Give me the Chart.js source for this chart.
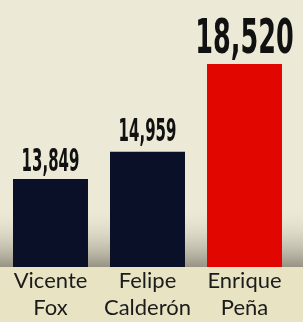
<!DOCTYPE html>
<html>
<head>
<meta charset="utf-8">
<script src="https://cdn.jsdelivr.net/npm/chart.js@4/dist/chart.umd.min.js"></script>
<style>
  html, body { margin: 0; padding: 0; background: #ece9d6; }
  #wrap { width: 303px; height: 322px; }
</style>
</head>
<body>
<div id="wrap"><canvas id="chart" width="303" height="322"></canvas></div>
<script>
// Data
const categories = [['Vicente', 'Fox'], ['Felipe', 'Calderón'], ['Enrique', 'Peña']];
const values = [13849, 14959, 18520];
const valueLabels = ['13,849', '14,959', '18,520'];

// Styles
const barColors = ['#0b1029', '#0b1029', '#e10600'];
const labelSizes = [32, 32, 48];
const labelSqueeze = [0.52, 0.52, 0.59];
const labelGaps = [8, 11, 11];

// Cream background with a grey shade near the baseline
const backdrop = {
    id: 'backdrop',
    beforeDraw(chart) {
        const ctx = chart.ctx;
        const area = chart.chartArea;
        ctx.save();
        ctx.fillStyle = '#ece9d6';
        ctx.fillRect(0, 0, chart.width, area.bottom);
        const g = ctx.createLinearGradient(0, area.bottom - 62, 0, area.bottom);
        g.addColorStop(0, 'rgba(236,233,214,0)');
        g.addColorStop(1, 'rgba(150,147,132,1)');
        ctx.fillStyle = g;
        ctx.fillRect(0, area.bottom - 62, chart.width, 62);
        ctx.fillStyle = '#e8e4c3';
        ctx.fillRect(0, area.bottom, chart.width, chart.height - area.bottom);
        ctx.restore();
    }
};

// Bold condensed numbers above the bars
const valueTags = {
    id: 'valueTags',
    afterDatasetsDraw(chart) {
        const ctx = chart.ctx;
        const meta = chart.getDatasetMeta(0);
        meta.data.forEach((bar, i) => {
            ctx.save();
            ctx.font = `bold ${labelSizes[i]}px "DejaVu Sans Condensed", "DejaVu Sans", sans-serif`;
            ctx.fillStyle = '#111111';
            ctx.textAlign = 'center';
            ctx.textBaseline = 'alphabetic';
            ctx.translate(bar.x, bar.y - labelGaps[i]);
            ctx.scale(labelSqueeze[i], 1);
            ctx.fillText(valueLabels[i], 0, 0);
            ctx.restore();
        });
    }
};

new Chart(document.getElementById('chart'), {
    type: 'bar',
    data: {
        labels: categories,
        datasets: [{
            data: values,
            backgroundColor: barColors,
            borderWidth: 0,
            barPercentage: 0.773,
            categoryPercentage: 1
        }]
    },
    options: {
        responsive: false,
        animation: false,
        layout: { padding: { left: 2, right: 10, top: 0, bottom: 0 } },
        plugins: { legend: { display: false }, tooltip: { enabled: false } },
        scales: {
            x: {
                grid: { display: false, drawTicks: false },
                border: { display: false },
                ticks: {
                    color: '#1b1b1b',
                    padding: 0,
                    font: { family: 'Lato, "Open Sans", sans-serif', size: 22, lineHeight: 1.25 }
                }
            },
            y: {
                display: false,
                min: 10275,
                max: 21120
            }
        }
    },
    plugins: [backdrop, valueTags]
});
</script>
</body>
</html>
